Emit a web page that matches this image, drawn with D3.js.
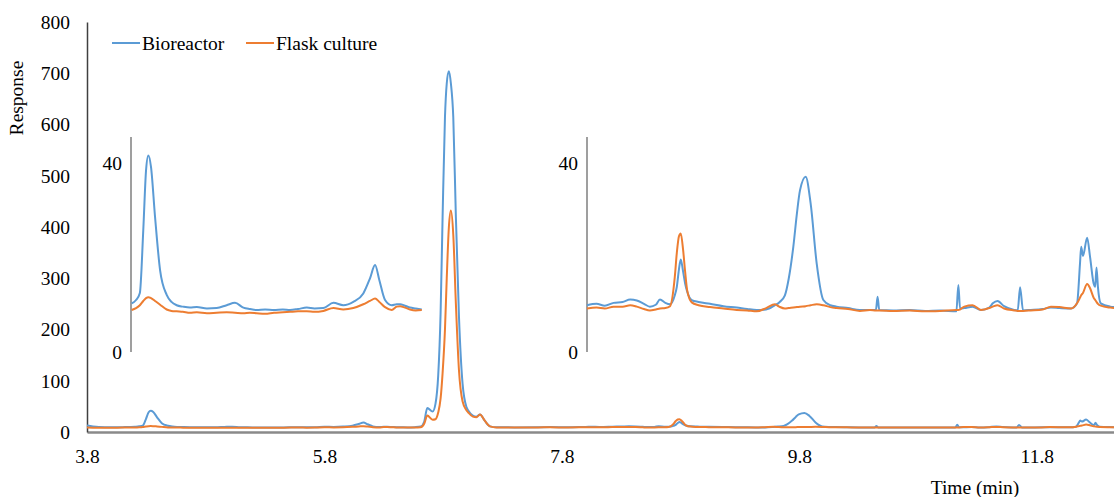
<!DOCTYPE html>
<html>
<head>
<meta charset="utf-8">
<script src="https://cdn.jsdelivr.net/npm/d3@7"></script>
<style>
  body { margin: 0; background: #fff; }
  svg { display: block; }
  .line { fill: none; stroke-width: 2; stroke-linejoin: round; }
  text { font-family: "Liberation Serif", "DejaVu Serif", "Times New Roman", serif; fill: #000; }
</style>
</head>
<body>
<svg width="1114" height="497"></svg>
<script>
// retention time (min)
const times = [
  3.80, 3.85, 3.90, 4.00, 4.10, 4.205, 4.24, 4.27, 4.297, 4.319, 4.337, 4.358, 4.39, 4.43, 4.482,
  4.52, 4.561, 4.61, 4.666, 4.72, 4.80, 4.877, 4.956, 5.022, 5.088, 5.14, 5.194, 5.26, 5.33, 5.40,
  5.457, 5.52, 5.589, 5.65, 5.72, 5.80, 5.878, 5.957, 6.036, 6.089, 6.129, 6.163, 6.208, 6.261, 6.30,
  6.327, 6.365, 6.405, 6.45, 6.498, 6.56, 6.61, 6.64, 6.666, 6.711, 6.735, 6.758, 6.778, 6.795, 6.815,
  6.83, 6.848, 6.865, 6.885, 6.907, 6.933, 6.963, 6.997, 7.011, 7.05, 7.08, 7.11, 7.15, 7.194, 7.25,
  7.40, 7.60, 7.70, 7.85, 8.00, 8.08, 8.15, 8.224, 8.30, 8.364, 8.42, 8.48, 8.53, 8.58, 8.615,
  8.66, 8.70, 8.74, 8.757, 8.775, 8.79, 8.81, 8.827, 8.844, 8.883, 8.94, 9.037, 9.15, 9.262, 9.35,
  9.43, 9.51, 9.584, 9.62, 9.668, 9.70, 9.739, 9.77, 9.795, 9.843, 9.885, 9.936, 9.992, 10.05, 10.104,
  10.20, 10.30, 10.385, 10.435, 10.449, 10.463, 10.58, 10.72, 10.85, 10.98, 11.113, 11.13, 11.144, 11.18, 11.25,
  11.32, 11.39, 11.42, 11.46, 11.515, 11.60, 11.63, 11.65, 11.675, 11.74, 11.84, 11.91, 11.98, 12.08, 12.13,
  12.155, 12.165, 12.18, 12.215, 12.24, 12.27, 12.283, 12.294, 12.306, 12.33, 12.41, 12.45
];

const bioreactor = [
  12.5, 10.6, 9.6, 9.2, 9.5, 10.3, 11.0, 12.5, 25.8, 38.5, 41.6, 39.2, 28.6, 17.3, 12.1,
  10.6, 9.9, 9.6, 9.4, 9.5, 9.2, 9.3, 9.9, 10.4, 9.4, 9.1, 8.9, 9.0, 8.9, 9.0,
  8.9, 9.1, 9.4, 9.2, 9.3, 10.4, 9.9, 10.6, 12.4, 15.6, 18.4, 15.2, 11.0, 9.9, 10.1,
  10.1, 9.8, 9.4, 9.2, 9.0, 9.5, 10.6, 20, 47, 40, 55, 110, 230, 419, 614,
  680, 704, 680, 614, 419, 225, 95, 48, 42, 32, 30, 34, 22, 11, 9.2,
  9.0, 9.3, 9.6, 9.2, 9.9, 10.2, 9.8, 10.4, 10.6, 11.1, 10.9, 10.2, 9.6, 10.0, 11.1,
  10.4, 10.1, 12.0, 13.8, 17.5, 19.6, 17.0, 14.5, 12.8, 11.0, 10.6, 10.2, 9.7, 9.4, 9.1,
  8.9, 9.0, 9.9, 10.5, 12.0, 15.5, 22.3, 29.5, 34.2, 37.1, 31.4, 18.7, 11.0, 9.9, 9.6,
  9.3, 8.9, 8.9, 8.9, 11.7, 8.9, 8.8, 8.9, 8.7, 8.8, 8.6, 14.2, 9.2, 9.3, 9.6,
  8.9, 9.4, 10.3, 10.8, 9.7, 8.9, 8.8, 13.7, 8.8, 8.9, 9.1, 9.4, 9.3, 9.2, 10.3,
  18.7, 22.3, 20.3, 24.2, 20.1, 14.5, 13.8, 17.9, 13.8, 10.3, 9.6, 9.5
];

const flaskCulture = [
  8.6, 8.4, 8.3, 8.4, 8.6, 8.9, 9.3, 9.9, 10.8, 11.4, 11.6, 11.4, 10.8, 10.0, 9.0,
  8.7, 8.6, 8.5, 8.3, 8.4, 8.2, 8.3, 8.4, 8.3, 8.2, 8.3, 8.2, 8.1, 8.3, 8.4,
  8.5, 8.6, 8.6, 8.5, 8.7, 9.3, 9.0, 9.3, 10.1, 10.8, 11.3, 10.6, 9.5, 8.9, 9.6,
  9.7, 9.4, 9.0, 8.8, 8.9, 8.8, 9.2, 16, 32, 24, 25, 38, 65, 115, 200,
  300, 400, 432, 385, 250, 120, 60, 42, 38, 30, 29, 34, 22, 11, 9.0,
  8.7, 9.0, 9.2, 8.8, 9.2, 9.4, 9.2, 9.6, 9.6, 9.9, 9.6, 9.1, 8.8, 9.0, 9.2,
  9.3, 9.7, 15.9, 21, 24.5, 25.1, 21.6, 17, 13.1, 10.5, 9.9, 9.5, 9.2, 8.9, 8.8,
  8.6, 9.3, 10.1, 9.6, 9.2, 9.3, 9.4, 9.5, 9.6, 9.7, 9.9, 10.1, 9.9, 9.5, 9.3,
  9.1, 8.7, 8.9, 8.8, 8.8, 8.8, 8.7, 8.8, 8.6, 8.7, 8.9, 8.9, 9.0, 9.6, 9.9,
  8.9, 9.3, 9.6, 9.9, 9.2, 8.8, 8.7, 8.7, 8.7, 8.8, 9.0, 9.6, 9.5, 9.2, 10.3,
  11.5, 12.0, 12.5, 14.4, 13.5, 11.5, 11.0, 10.6, 10.2, 9.8, 9.4, 9.3
];

const xTicks = [3.8, 5.8, 7.8, 9.8, 11.8];
const yTicks = [0, 100, 200, 300, 400, 500, 600, 700, 800];
const insetTicks = [0, 40];
const leftInsetRange = [4.2, 6.5];
const rightInsetRange = [8.0, 12.45];

const seriesList = [
  { name: 'Bioreactor', values: bioreactor, color: '#5B9BD5' },
  { name: 'Flask culture', values: flaskCulture, color: '#ED7D31' }
];

const svg = d3.select('svg');
const fontSize = 19.5;
const serif = '"Liberation Serif", "DejaVu Serif", "Times New Roman", serif';

const xScale = d3.scaleLinear().domain([3.8, 12.45]).range([87, 1114]);
const yScale = d3.scaleLinear().domain([0, 800]).range([432, 22]);

const rowsOf = series => times.map((t, i) => ({ t, v: series.values[i] }));

const drawLines = (group, xs, ys, tRange) => {
  const line = d3.line()
    .x(d => xs(d.t))
    .y(d => ys(d.v))
    .curve(d3.curveMonotoneX);
  seriesList.forEach(series => {
    const rows = rowsOf(series).filter(d => d.t >= tRange[0] - 1e-9 && d.t <= tRange[1] + 1e-9);
    group.append('path')
      .attr('class', 'line')
      .attr('stroke', series.color)
      .attr('d', line(rows));
  });
};

const styleAxisText = g => {
  g.attr('font-family', serif).attr('font-size', fontSize);
  g.selectAll('text')
    .style('font-family', serif)
    .attr('font-size', fontSize)
    .attr('fill', '#000');
};

// main axes
const xAxisGroup = svg.append('g')
  .attr('transform', `translate(0, ${yScale(0)})`)
  .call(d3.axisBottom(xScale).tickValues(xTicks).tickSize(0).tickPadding(17).tickFormat(d3.format('.1f')));
xAxisGroup.select('path.domain').attr('stroke', '#8a8a8a').attr('stroke-width', 2.5);
styleAxisText(xAxisGroup);

const yAxisGroup = svg.append('g')
  .attr('transform', `translate(${xScale(3.8)}, 0)`)
  .call(d3.axisLeft(yScale).tickValues(yTicks).tickSize(0).tickPadding(17));
yAxisGroup.select('path.domain').attr('stroke', '#404040').attr('stroke-width', 1.5);
styleAxisText(yAxisGroup);

// axis titles
svg.append('text')
  .attr('transform', `translate(23, 98) rotate(-90)`)
  .attr('text-anchor', 'middle')
  .attr('font-size', fontSize)
  .style('font-family', serif)
  .text('Response');
svg.append('text')
  .attr('x', 975)
  .attr('y', 494)
  .attr('text-anchor', 'middle')
  .attr('font-size', fontSize)
  .style('font-family', serif)
  .text('Time (min)');

// main traces
drawLines(svg.append('g'), xScale, yScale, [3.8, 12.45]);

// insets: zoomed views of the baseline region
const insetY = d3.scaleLinear().domain([0, 40]).range([352, 163]);

const drawInset = (tRange, pxRange) => {
  const xs = d3.scaleLinear().domain(tRange).range(pxRange);
  const g = svg.append('g');
  const axisG = g.append('g')
    .attr('transform', `translate(${pxRange[0]}, 0)`)
    .call(d3.axisLeft(insetY).tickValues(insetTicks).tickSize(0).tickPadding(9));
  axisG.select('path.domain')
    .attr('d', `M0,${insetY(0)}V137`)
    .attr('stroke', '#7f7f7f')
    .attr('stroke-width', 1.5);
  styleAxisText(axisG);
  drawLines(g, xs, insetY, tRange);
};

drawInset(leftInsetRange, [131, 422]);
drawInset(rightInsetRange, [587, 1115]);

// legend
const legend = svg.append('g').attr('transform', 'translate(112, 43)');
const legendOffsets = [0, 134];
seriesList.forEach((series, i) => {
  const item = legend.append('g').attr('transform', `translate(${legendOffsets[i]}, 0)`);
  item.append('line')
    .attr('x1', 0).attr('x2', 28)
    .attr('y1', 0).attr('y2', 0)
    .attr('stroke', series.color)
    .attr('stroke-width', 2);
  item.append('text')
    .attr('x', 30)
    .attr('y', 7)
    .attr('font-size', fontSize)
    .style('font-family', serif)
    .text(series.name);
});
</script>
</body>
</html>
